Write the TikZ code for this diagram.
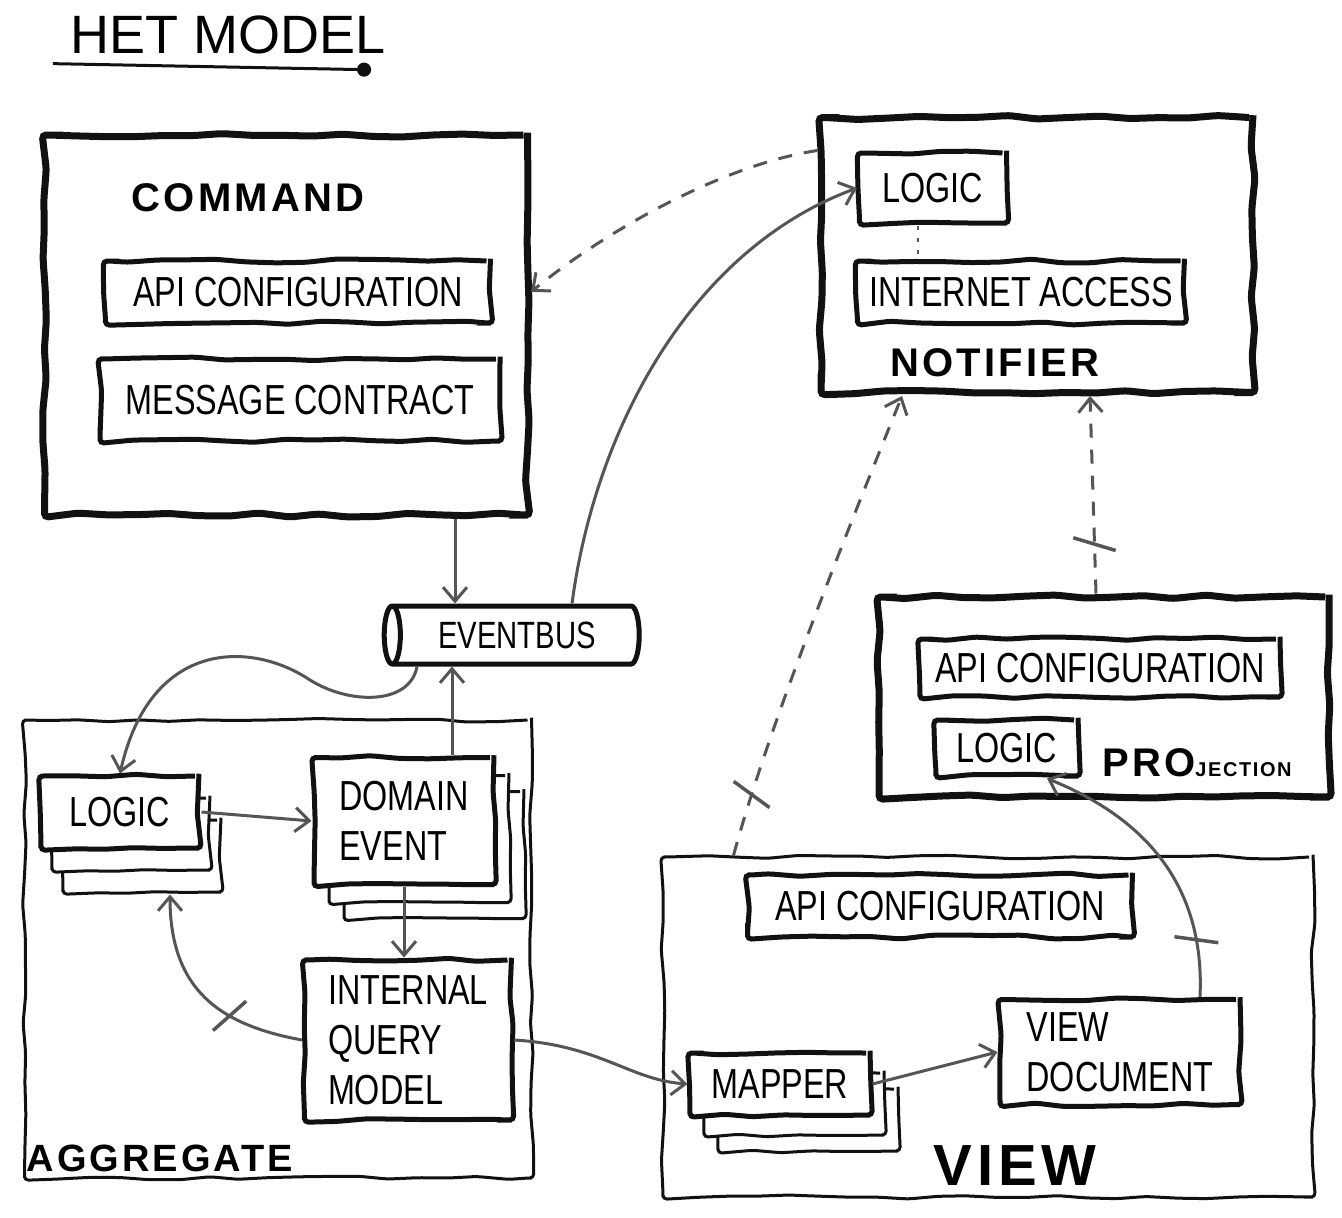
\documentclass[tikz,border=0pt]{standalone}
\usepackage{fontspec}
\setmainfont{Liberation Sans}
\newfontfamily\boxfont[FakeStretch=0.77]{Liberation Sans}
\newfontfamily\handfont[LetterSpace=8]{Liberation Sans}
\usetikzlibrary{arrows.meta,positioning,calc,shapes.geometric,shadows,decorations.pathmorphing,decorations.markings}
\definecolor{ink}{HTML}{111111}
\definecolor{pencil}{HTML}{555555}
\newcommand{\boxtext}{\boxfont\fontsize{42}{50}\selectfont}
\tikzset{
  wobble/.style={decorate, decoration={random steps, segment length=30pt, amplitude=2pt}, rounded corners=4pt},
  unit/.style={draw=ink, line width=7pt, wobble},
  area/.style={draw=ink, line width=3pt, wobble},
  part/.style={draw=ink, fill=white, line width=5pt, wobble, inner sep=0pt, align=left, font=\boxtext},
  stack/.style n args={4}{copy shadow={shadow xshift=#3, shadow yshift=#4, draw=ink, fill=white, line width=3pt},
    copy shadow={shadow xshift=#1, shadow yshift=#2, draw=ink, fill=white, line width=3pt}},
  handtag/.style={inner sep=0pt, font=\handfont\bfseries\fontsize{#1}{#1}\selectfont},
  link/.style={draw=pencil, line width=3pt, -{Straight Barb[length=14pt,width=24pt]}},
  hint/.style={link, dash pattern=on 14pt off 12pt},
  crossing/.style={postaction={decorate, decoration={markings, mark=at position #1 with
    {\draw[-, solid, line width=3.5pt, pencil] (-7pt,-21pt) -- (7pt,21pt);}}}}
}
\pgfmathsetseed{7}

\begin{document}
\begin{tikzpicture}[x=1pt, y=-1pt]
  \useasboundingbox (0,0) rectangle (1342,1218);

  % title
  \node[font=\fontsize{54}{60}\selectfont] (title) at (228,35) {HET MODEL};
  \draw[ink, line width=3pt] ([xshift=-14pt,yshift=-6pt]title.south west) -- ([xshift=-25pt,yshift=-12pt]title.south east)
    node[circle, fill=ink, inner sep=5pt] (titledot) {};

  % command side
  \node[unit, minimum width=483pt, minimum height=380pt] (command) at (286,325) {};
  \node[handtag=40] (commandtag) at (248,198) {COMMAND};
  \node[part, minimum width=385pt, minimum height=62pt] (cmdapi) at (298,292) {API CONFIGURATION};
  \node[part, minimum width=400pt, minimum height=82pt] (cmdmsg) at (300,400) {MESSAGE CONTRACT};

  % notifier
  \node[unit, minimum width=432pt, minimum height=275pt] (notifier) at (1037,255) {};
  \node[part, minimum width=147pt, minimum height=70pt] (ntlogic) at (933,188) {LOGIC};
  \node[part, minimum width=327pt, minimum height=62pt] (ntinet) at (1021,292) {INTERNET ACCESS};
  \node[handtag=40] (notifiertag) at (995,363) {NOTIFIER};

  % bus
  \node[cylinder, shape border rotate=180, aspect=0.6, draw=ink, fill=white, line width=5pt,
    minimum width=58pt, minimum height=255pt, inner sep=0pt,
    font=\boxfont\fontsize{38}{44}\selectfont] (eventbus) at (517,635) {EVENTBUS};

  % aggregate
  \node[area, minimum width=507pt, minimum height=458pt] (aggregate) at (278,949) {};
  \node[handtag=38] (aggregatetag) at (160,1158) {AGGREGATE};
  \node[part, stack={11pt}{-22pt}{22pt}{-44pt}, minimum width=158pt, minimum height=72pt] (aglogic) at (120,812) {LOGIC};
  \node[part, stack={15pt}{-18pt}{30pt}{-34pt}, minimum width=180pt, minimum height=127pt] (agevent) at (404,821) {DOMAIN\\EVENT};
  \node[part, minimum width=207pt, minimum height=160pt] (agquery) at (408,1040) {INTERNAL\\QUERY\\MODEL};

  % view
  \node[area, minimum width=650pt, minimum height=340pt] (view) at (988,1027) {};
  \node[handtag=58] (viewtag) at (1015,1166) {VIEW};
  \node[part, minimum width=385pt, minimum height=62pt] (vwapi) at (940,906) {API CONFIGURATION};
  \node[part, stack={14pt}{-20pt}{28pt}{-36pt}, minimum width=180pt, minimum height=62pt] (vwmapper) at (780,1084) {MAPPER};
  \node[part, minimum width=240pt, minimum height=105pt] (vwdoc) at (1120,1052) {VIEW\\DOCUMENT};

  % projection
  \node[unit, minimum width=450pt, minimum height=200pt] (projection) at (1104,697) {};
  \node[part, minimum width=360pt, minimum height=58pt] (pjapi) at (1100,668) {API CONFIGURATION};
  \node[part, minimum width=142pt, minimum height=56pt] (pjlogic) at (1007,748) {LOGIC};
  \node[inner sep=0pt] (pjtag) at (1197,763) {{\handfont\bfseries\fontsize{40}{40}\selectfont PRO}{\handfont\bfseries\fontsize{20}{20}\selectfont JECTION}};

  % connectors
  \coordinate (busin) at ([xshift=-62pt]eventbus.north);
  \coordinate (busout) at ([xshift=55pt]eventbus.north);
  \coordinate (busup) at ([xshift=-65pt]eventbus.south);
  \coordinate (busdown) at ([xshift=-100pt]eventbus.south);
  \coordinate (stackfoot) at ([xshift=50pt,yshift=-44pt]aglogic.south);
  \coordinate (docout) at ([xshift=80pt]vwdoc.north);
  \coordinate (logicin) at ([xshift=40pt]pjlogic.south);
  \coordinate (viewout) at ([xshift=72pt]view.north west);
  \coordinate (notin) at ([xshift=-135pt]notifier.south);
  \coordinate (projout) at ([xshift=-8pt]projection.north);
  \coordinate (notin2) at ([xshift=53pt]notifier.south);

  \draw[link] (busin |- command.south) -- (busin);
  \draw[link] (busout) .. controls (595,430) and (690,250) .. (ntlogic.west);
  \draw[hint] (notifier.west |- ntlogic.north) .. controls (720,165) and (600,235) .. (command.east |- cmdapi.east);
  \draw[pencil, line width=2pt, dash pattern=on 4pt off 8pt] ([xshift=-15pt]ntlogic.south) -- ([xshift=-15pt]ntlogic.south |- ntinet.north);
  \draw[link] (busdown) .. controls (410,705) and (350,705) .. (310,680) .. controls (250,640) and (150,640) .. (aglogic.north);
  \draw[link] (busup |- agevent.north) -- (busup);
  \draw[link] (aglogic.east) -- (agevent.west);
  \draw[link] (agevent.south) -- (agevent.south |- agquery.north);
  \draw[link, crossing=0.35] (agquery.west) .. controls (220,1025) and (170,990) .. (stackfoot);
  \draw[link] (agquery.east) .. controls (600,1045) and (630,1080) .. (vwmapper.west);
  \draw[link] (vwmapper.east) -- (vwdoc.west);
  \draw[link, crossing=0.2] (docout) .. controls (1205,890) and (1150,820) .. (logicin);
  \draw[hint, crossing=0.13] (viewout) .. controls (770,720) and (860,500) .. (notin);
  \draw[hint, crossing=0.25] (projout) -- (notin2);
\end{tikzpicture}
\end{document}
